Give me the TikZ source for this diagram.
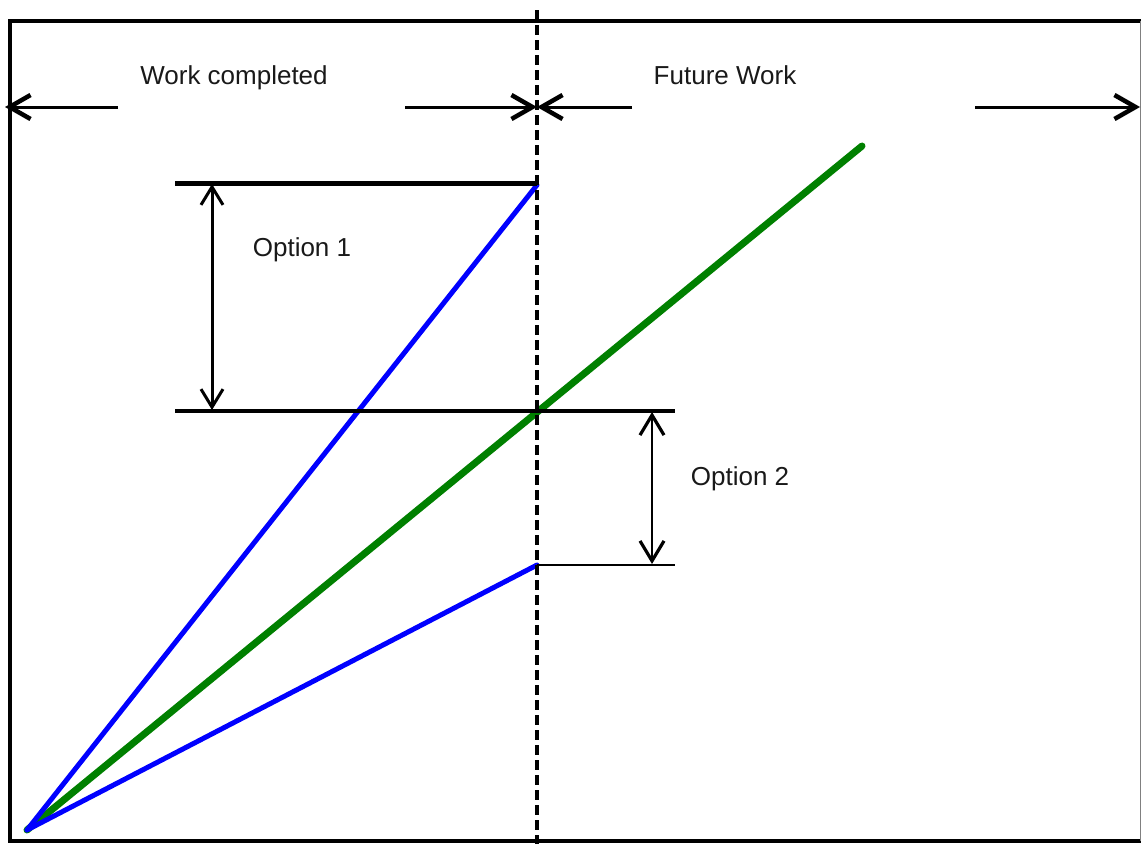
\documentclass[tikz,border=0pt]{standalone}
\usepackage{fontspec}
\setmainfont{Liberation Sans}
\usetikzlibrary{arrows.meta}
\definecolor{lineblue}{RGB}{0,0,255}
\definecolor{linegreen}{RGB}{0,128,0}
\definecolor{txt}{RGB}{25,25,25}
\begin{document}
\begin{tikzpicture}[x=1pt,y=-1pt,
  lbl/.style={font=\fontsize{26}{31}\selectfont, text=txt, anchor=base, inner sep=0pt},
  frameline/.style={line width=3.5pt, line cap=rect},
  bigbarb/.style={>={Straight Barb[length=21pt,width=24pt,line width=4.5pt]}},
  smallbarb/.style={>={Straight Barb[length=18pt,width=22pt,line width=3pt]}},
  topline/.style={line width=3pt, bigbarb},
  divider/.style={line width=3.5pt, dash pattern=on 10pt off 5pt},
  blueline/.style={lineblue, line width=5pt, line cap=round},
  greenline/.style={linegreen, line width=7pt, line cap=round}]
\useasboundingbox (0,0) rectangle (1141,844);
% frame
\coordinate (fTL) at (10,21);
\coordinate (fBL) at (10,841);
\coordinate (fTR) at (1141,21);
\coordinate (fBR) at (1141,841);
\draw[frameline] (fTR) -- (fTL) -- (fBL) -- (fBR);
\draw[gray, line width=1pt] (1140,21) -- (1140,841);
% key points
\coordinate (O) at (27,830);
\coordinate (P1) at (537,185);
\coordinate (P2) at (537,565);
\coordinate (G) at (862,146);
\coordinate (hTopL) at (175,183);
\coordinate (hTopR) at (537,183);
\coordinate (hMidL) at (175,411);
\coordinate (hMidR) at (675,411);
\coordinate (hBotL) at (537,565);
\coordinate (hBotR) at (675,565);
% slopes
\draw[greenline] (O) -- (G);
\draw[blueline] (O) -- (P1);
\draw[blueline] (O) -- (P2);
% horizontal levels
\draw[line width=5pt] (hTopL) -- (hTopR);
\draw[line width=3.5pt] (hMidL) -- (hMidR);
\draw[line width=2.5pt] (hBotL) -- (hBotR);
% option arrows
\coordinate (o1a) at (212,184);
\coordinate (o1b) at (212,410);
\draw[<->, line width=3pt, smallbarb] (o1a) -- (o1b);
\coordinate (o2a) at (652,412);
\coordinate (o2b) at (652,564);
\draw[<->, line width=1.3pt, >={Straight Barb[length=20pt,width=24pt,line width=3.2pt]}] (o2a) -- (o2b);
\node[lbl] (opt1) at (302,256) {Option 1};
\node[lbl] (opt2) at (740,485) {Option 2};
% divider
\coordinate (dTop) at (537,10);
\coordinate (dBot) at (537,844);
\draw[divider] (dTop) -- (dBot);
% top span arrows
\coordinate (aL) at (5,107);
\coordinate (aLe) at (118,107);
\coordinate (aMl) at (405,107);
\coordinate (aM) at (537,107);
\coordinate (aMr) at (632,107);
\coordinate (aRs) at (975,107);
\coordinate (aR) at (1140,107);
\draw[->, topline] (aLe) -- (aL);
\draw[->, topline] (aMl) -- (aM);
\draw[->, topline] (aMr) -- (aM);
\draw[->, topline] (aRs) -- (aR);
\node[lbl] (wc) at (234,84) {Work completed};
\node[lbl] (fw) at (725,84) {Future Work};
\end{tikzpicture}
\end{document}
